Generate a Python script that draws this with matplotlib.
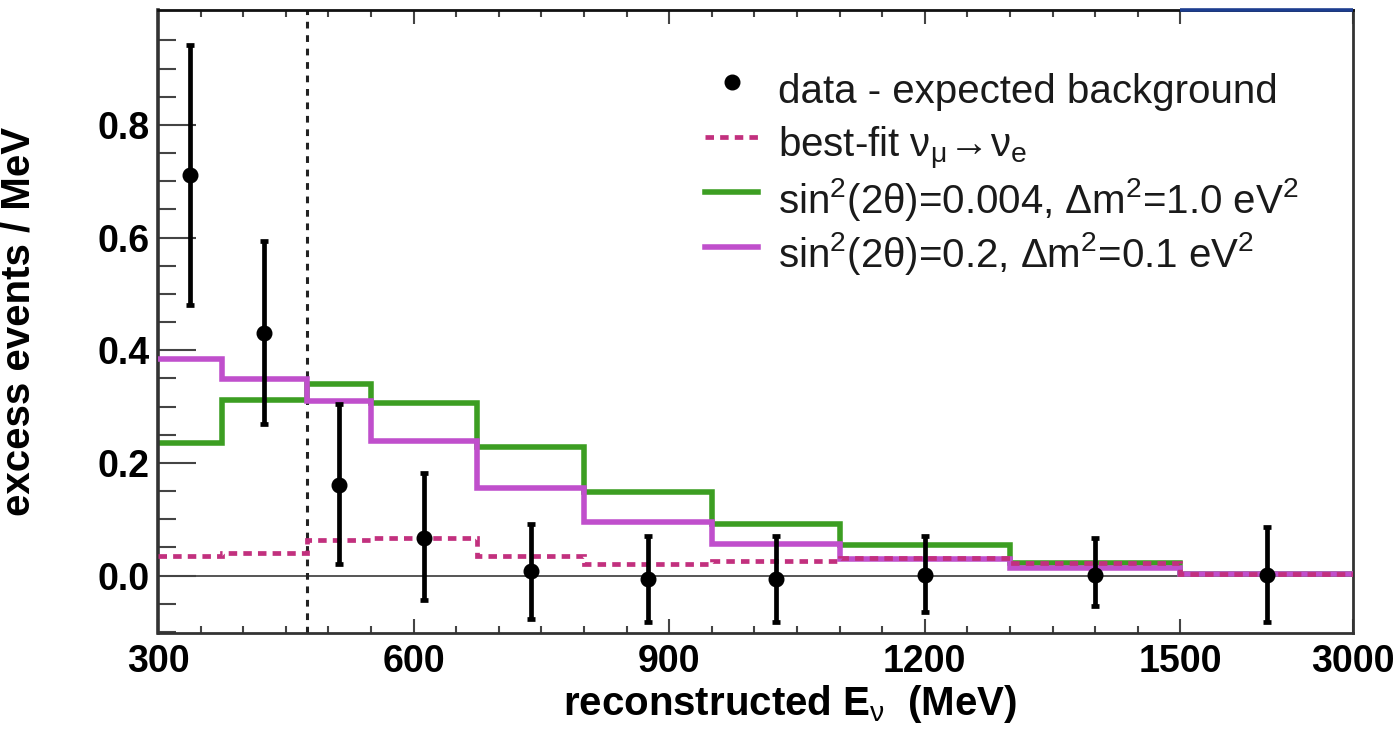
import numpy as np
import matplotlib
matplotlib.use('Agg')
from matplotlib import pyplot as plt

plt.rcParams['font.family'] = ['Liberation Sans', 'DejaVu Sans']
plt.rcParams['mathtext.fontset'] = 'custom'
plt.rcParams['mathtext.rm'] = 'Liberation Sans'
plt.rcParams['mathtext.it'] = 'Liberation Sans:italic'
plt.rcParams['mathtext.bf'] = 'Liberation Sans:bold'

# bin edges (MeV), last bin is drawn compressed
edges = [300, 375, 475, 550, 675, 800, 950, 1100, 1300, 1500, 3000]
centers = [337.5, 425, 512.5, 612.5, 737.5, 875, 1025, 1200, 1400, 2250]

# data - expected background
excess = [0.711, 0.431, 0.161, 0.067, 0.008, -0.006, -0.006, 0.001, 0.001, 0.001]
err_hi = [0.942, 0.594, 0.305, 0.182, 0.092, 0.071, 0.071, 0.071, 0.066, 0.087]
err_lo = [0.480, 0.269, 0.021, -0.043, -0.077, -0.082, -0.083, -0.064, -0.055, -0.082]

# model predictions per bin
best_fit = [0.034, 0.040, 0.063, 0.067, 0.035, 0.020, 0.025, 0.031, 0.023, 0.003]
osc_high_dm = [0.235, 0.311, 0.340, 0.306, 0.229, 0.149, 0.091, 0.055, 0.023, 0.003]
osc_low_dm = [0.384, 0.349, 0.309, 0.239, 0.156, 0.095, 0.056, 0.030, 0.014, 0.002]

x_ticks = [300, 600, 900, 1200, 1500, 3000]
y_ticks = [0.0, 0.2, 0.4, 0.6, 0.8]
threshold = 475

labels = ['data - expected background',
          r'best-fit ν$_{\mathrm{μ}}\!\rightarrow\!$ν$_{\mathrm{e}}$',
          r'sin$^{2}$(2θ)=0.004, Δm$^{2}$=1.0 eV$^{2}$',
          r'sin$^{2}$(2θ)=0.2, Δm$^{2}$=0.1 eV$^{2}$']

K = 0.135  # compression of the 1500-3000 bin


def fwd(x):
    x = np.asarray(x, dtype=float)
    return np.where(x <= 1500, x, 1500 + (x - 1500) * K)


def inv(u):
    u = np.asarray(u, dtype=float)
    return np.where(u <= 1500, u, 1500 + (u - 1500) / K)


fig = plt.figure(figsize=(13.99, 7.31), dpi=100)
ax = fig.add_axes([0.1129, 0.1341, 0.8542, 0.8522])
ax.set_xscale('function', functions=(fwd, inv))
ax.set_xlim(300, 3000)
ax.set_ylim(-0.102, 1.004)

green = '#3c9e22'
magenta = '#c04fcc'
pink = '#c2307e'
dash = (0, (1.8, 1.3))

ax.axhline(0, color='#555555', lw=1.4, zorder=1)
ax.axvline(threshold, color='#222222', lw=2.2, ls=(0, (2.2, 2.2)), zorder=1)

ax.stairs(osc_high_dm, edges, color=green, lw=4, baseline=None, zorder=2)
ax.stairs(osc_low_dm, edges, color=magenta, lw=4, baseline=None, zorder=3)
ax.stairs(best_fit, edges, color=pink, lw=3.4, ls=dash, baseline=None, zorder=4)
h_green = plt.Line2D([], [], color=green, lw=4)
h_mag = plt.Line2D([], [], color=magenta, lw=4)
h_best = plt.Line2D([], [], color=pink, lw=3.4, ls=dash)

yerr = [np.array(excess) - np.array(err_lo), np.array(err_hi) - np.array(excess)]
eb = ax.errorbar(centers, excess, yerr=yerr, fmt='o', color='black', ms=10.5,
                 elinewidth=3.4, capsize=3, capthick=3.4, zorder=5)

# blue segment on top frame over the last bin (as in the scan)
ax.hlines(ax.get_ylim()[1], 1500, 3000, color='#1c3d8f', lw=2.6, clip_on=False, zorder=6)

ax.legend([eb[0], h_best, h_green, h_mag], labels, loc='upper left',
          bbox_to_anchor=(705 / 1399, 1 - 62 / 731), bbox_transform=fig.transFigure,
          frameon=False, fontsize=29, handlelength=1.32, handleheight=1.72,
          handletextpad=0.5, labelspacing=0, borderpad=0, borderaxespad=0,
          numpoints=1, labelcolor='#1a1a1a')

ax.set_xticks(x_ticks, [str(t) for t in x_ticks])
ax.set_xticks([m for m in range(350, 1500, 50) if m % 300 != 0], minor=True)
ax.set_yticks(y_ticks, ['%.1f' % t for t in y_ticks])
ax.set_yticks(np.arange(-0.1, 1.0, 0.05), minor=True)

ax.tick_params(axis='x', which='both', direction='in', top=True, bottom=True,
               labelsize=27, pad=8, width=1.5, color='#444444')
ax.tick_params(axis='x', which='major', length=10)
ax.tick_params(axis='x', which='minor', length=5)
ax.tick_params(axis='y', which='both', direction='in', left=True, right=False,
               labelsize=27, pad=6, width=1.5, color='#444444')
ax.tick_params(axis='y', which='major', length=27)
ax.tick_params(axis='y', which='minor', length=13)
for lab in ax.get_xticklabels() + ax.get_yticklabels():
    lab.set_fontweight('bold')

for s in ax.spines.values():
    s.set_color('#333333')
    s.set_linewidth(2)
ax.spines['left'].set_linewidth(2.6)
ax.spines['top'].set_color('#111111')

ax.set_xlabel(r'reconstructed $\mathbf{E}_{\mathrm{ν}}$  (MeV)', fontsize=29, fontweight='bold')
ax.xaxis.set_label_coords(0.529, -0.08)
ax.set_ylabel('excess events / MeV', fontsize=29, fontweight='bold')
ax.yaxis.set_label_coords(-0.101, 0.5)

fig.savefig('out.png', dpi=100)
